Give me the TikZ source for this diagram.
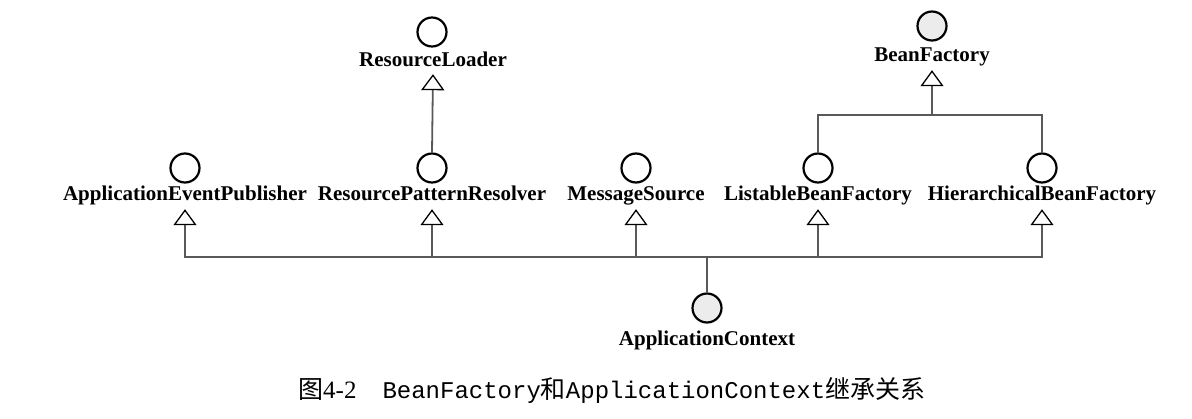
\documentclass[tikz,border=0pt]{standalone}
\usepackage{fontspec}
\setmainfont{Liberation Serif}
\setmonofont{Liberation Mono}
\newfontfamily\cjk{Noto Sans CJK SC}
\newcommand\capcjk[1]{{\cjk\fontsize{25}{27}\selectfont #1}}
\newcommand\captt[1]{{\ttfamily\fontsize{24}{27}\selectfont #1}}
\usetikzlibrary{arrows.meta}
\begin{document}
\begin{tikzpicture}[x=1pt,y=-1pt,
  iface/.style={circle,draw=black,line width=2.2pt,minimum size=29pt,inner sep=0pt,fill=white},
  root/.style={iface,fill=gray!15},
  lbl/.style={font=\fontsize{21}{24}\selectfont\bfseries,inner sep=0pt,anchor=base},
  conn/.style={draw=black!65,line width=1.8pt},
  inh/.style={conn,-{Triangle[open,length=16pt,width=23pt,line width=1.3pt,color=black]}}]
\useasboundingbox (0,0) rectangle (1192,419);
% top row
\node[iface] (rlC) at (432,32) {};
\node[lbl,text depth=7pt] (rl) at (433,67) {ResourceLoader};
\node[root] (bfC) at (932,26) {};
\node[lbl,text depth=8pt] (bf) at (932,62) {BeanFactory};
% second row
\node[iface] (aepC) at (185,168) {};
\node[iface] (rprC) at (432,168) {};
\node[iface] (msC)  at (636,168) {};
\node[iface] (lbfC) at (818,168) {};
\node[iface] (hbfC) at (1042,168) {};
\node[lbl,text depth=8pt] (aep) at (185,201) {ApplicationEventPublisher};
\node[lbl,text depth=8pt] (rpr) at (432,201) {ResourcePatternResolver};
\node[lbl,text depth=8pt] (ms)  at (636,201) {MessageSource};
\node[lbl,text depth=8pt] (lbf) at (818,201) {ListableBeanFactory};
\node[lbl,text depth=8pt] (hbf) at (1042,201) {HierarchicalBeanFactory};
% bottom
\node[root] (acC) at (707,308) {};
\node[lbl] (ac) at (707,346) {ApplicationContext};
% connectors
\draw[inh] (rprC.north) -- (rl.south);
\coordinate (bfJ) at (932,115);
\draw[conn] (lbfC.north) |- (bfJ) -| (hbfC.north);
\draw[inh] (bfJ) -- (bf.south);
\coordinate (bus) at (707,257);
\draw[conn] (acC.north) -- (bus);
\foreach \t in {aep,rpr,ms,lbf,hbf} \draw[inh] (bus) -| (\t.south);
% caption
\node[anchor=base west,inner sep=0pt,font=\fontsize{25}{27}\selectfont] (cap) at (298,399)
  {\capcjk{图}4-2\hspace{26pt}\captt{BeanFactory}\capcjk{和}\captt{ApplicationContext}\capcjk{继承关系}};
\end{tikzpicture}
\end{document}
